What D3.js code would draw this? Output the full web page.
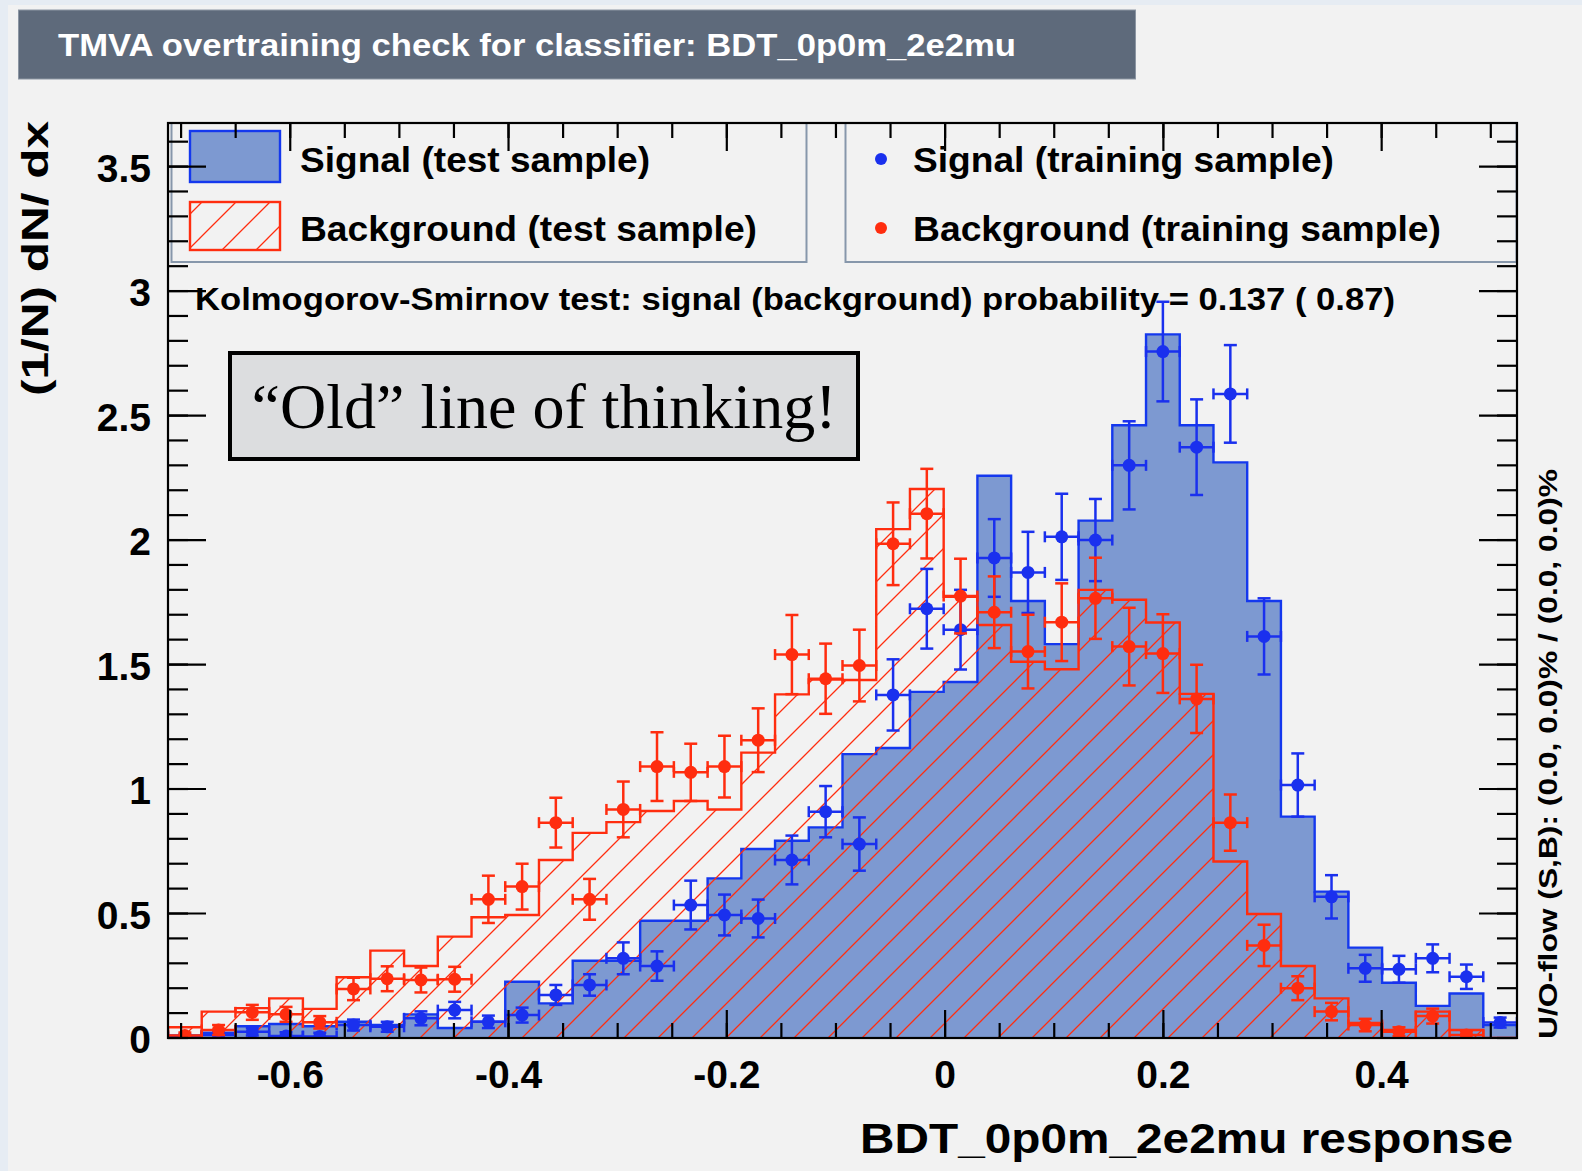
<!DOCTYPE html>
<html>
<head>
<meta charset="utf-8">
<script src="https://cdn.jsdelivr.net/npm/d3@7"></script>
<style>
  html, body { margin: 0; padding: 0; background: #e6ecf3; }
  svg { display: block; }
  text { font-family: "Liberation Sans", Arial, Helvetica, sans-serif; font-weight: bold; }
</style>
</head>
<body>
<svg id="chart" width="1582" height="1171"></svg>
<script>
// histogram binning of the BDT response
var nBins = 40;
var xLo = -0.712, xHi = 0.524;
var yTop = 3.675;

// signal, test sample (filled histogram)
var sigTest = [0.010, 0.021, 0.047, 0.056, 0.047, 0.065, 0.052, 0.095, 0.040, 0.065,
               0.226, 0.139, 0.310, 0.310, 0.471, 0.471, 0.641, 0.759, 0.792, 0.846,
               1.140, 1.165, 1.390, 1.430, 2.258, 1.755, 1.582, 2.078, 2.461, 2.826,
               2.461, 2.312, 1.755, 0.889, 0.588, 0.363, 0.222, 0.129, 0.179, 0.052];

// background, test sample (hatched histogram)
var bgTest = [0.043, 0.106, 0.120, 0.159, 0.117, 0.244, 0.351, 0.289, 0.407, 0.485,
              0.494, 0.715, 0.824, 0.867, 0.912, 0.952, 0.918, 1.146, 1.380, 1.440,
              1.438, 2.044, 2.205, 1.772, 1.659, 1.511, 1.481, 1.800, 1.760, 1.669,
              1.382, 0.709, 0.498, 0.289, 0.159, 0.060, 0.032, 0.106, 0.032, 0.000];

// signal, training sample (points)
var sigTrain = [0.004, 0.012, 0.025, 0.008, 0.006, 0.052, 0.045, 0.079, 0.112, 0.065,
                0.092, 0.173, 0.213, 0.320, 0.289, 0.534, 0.494, 0.480, 0.715, 0.909,
                0.779, 1.378, 1.724, 1.640, 1.928, 1.870, 2.013, 2.000, 2.300, 2.757,
                2.373, 2.587, 1.613, 1.016, 0.567, 0.280, 0.276, 0.320, 0.246, 0.062];
var sigTrainErr = [0.010, 0.012, 0.015, 0.015, 0.015, 0.022, 0.020, 0.028, 0.033, 0.025,
                   0.030, 0.040, 0.043, 0.064, 0.059, 0.098, 0.082, 0.076, 0.098, 0.103,
                   0.107, 0.143, 0.160, 0.160, 0.156, 0.163, 0.173, 0.165, 0.177, 0.200,
                   0.192, 0.196, 0.153, 0.127, 0.087, 0.054, 0.054, 0.056, 0.049, 0.020];

// background, training sample (points)
var bgTrain = [0.010, 0.032, 0.103, 0.095, 0.063, 0.197, 0.238, 0.233, 0.236, 0.557,
               0.608, 0.865, 0.557, 0.918, 1.090, 1.067, 1.090, 1.196, 1.540, 1.443,
               1.496, 1.985, 2.106, 1.775, 1.710, 1.552, 1.670, 1.766, 1.572, 1.544,
               1.362, 0.865, 0.372, 0.200, 0.106, 0.052, 0.025, 0.088, 0.012, 0.000];
var bgTrainErr = [0.012, 0.020, 0.030, 0.030, 0.025, 0.045, 0.050, 0.050, 0.050, 0.095,
                  0.092, 0.100, 0.082, 0.112, 0.138, 0.115, 0.124, 0.128, 0.159, 0.141,
                  0.144, 0.166, 0.180, 0.150, 0.144, 0.148, 0.156, 0.163, 0.156, 0.158,
                  0.137, 0.113, 0.083, 0.048, 0.035, 0.025, 0.018, 0.030, 0.015, 0.000];

var xTickVals = [-0.6, -0.4, -0.2, 0, 0.2, 0.4];
var xTickLabels = ["-0.6", "-0.4", "-0.2", "0", "0.2", "0.4"];
var yTickVals = [0, 0.5, 1, 1.5, 2, 2.5, 3, 3.5];
var yTickLabels = ["0", "0.5", "1", "1.5", "2", "2.5", "3", "3.5"];

var titleText = "TMVA overtraining check for classifier: BDT_0p0m_2e2mu";
var ksText = "Kolmogorov-Smirnov test: signal (background) probability = 0.137 ( 0.87)";
var flowText = "U/O-flow (S,B): (0.0, 0.0)% / (0.0, 0.0)%";
var xTitle = "BDT_0p0m_2e2mu response";
var yTitle = "(1/N) dN/ dx";
var noteText = "\u201COld\u201D line of thinking!";

// colours
var cSigFill = "#7d99d1", cSigLine = "#1438ee", cBg = "#ff2d0f";

var svg = d3.select("#chart");
var W = 1582, H = 1171;
var frame = {l: 168, r: 1517, t: 123, b: 1038};

var x = d3.scaleLinear().domain([xLo, xHi]).range([frame.l, frame.r]);
var y = d3.scaleLinear().domain([0, yTop]).range([frame.b, frame.t]);
var bw = (xHi - xLo) / nBins;
var edge = function(i){ return xLo + i * bw; };

// background of the slide / canvas
svg.append("rect").attr("x", 8).attr("y", 5).attr("width", W - 8).attr("height", H - 5)
  .attr("fill", "#f2f2f2");

var defs = svg.append("defs");
var pat = defs.append("pattern").attr("id", "hatch")
  .attr("patternUnits", "userSpaceOnUse")
  .attr("x", 30).attr("y", 0).attr("width", 34).attr("height", 34);
pat.append("path")
  .attr("d", "M0,34 L34,0 M-8.5,8.5 L8.5,-8.5 M25.5,42.5 L42.5,25.5")
  .attr("stroke", cBg).attr("stroke-width", 1.3).attr("fill", "none");

defs.append("clipPath").attr("id", "frameClip")
  .append("rect").attr("x", frame.l).attr("y", frame.t)
  .attr("width", frame.r - frame.l).attr("height", frame.b - frame.t);

// title bar
svg.append("rect").attr("x", 18.5).attr("y", 10).attr("width", 1117).attr("height", 69)
  .attr("fill", "#5e6a7b").attr("stroke", "#8c96a3").attr("stroke-width", 1);
svg.append("text").attr("x", 58).attr("y", 56).attr("fill", "#ffffff")
  .attr("font-size", 32).attr("textLength", 958).attr("lengthAdjust", "spacingAndGlyphs")
  .text(titleText);

// step outline through the bins
function stepPoints(vals){
  var pts = [[edge(0), 0]];
  vals.forEach(function(v, i){ pts.push([edge(i), v]); });
  pts.push([edge(nBins), vals[nBins - 1]]);
  pts.push([edge(nBins), 0]);
  return pts;
}
var stepLine = d3.line()
  .x(function(d){ return x(d[0]); })
  .y(function(d){ return y(d[1]); })
  .curve(d3.curveStepAfter);

var plot = svg.append("g").attr("clip-path", "url(#frameClip)");

// signal test histogram
plot.append("path").attr("d", stepLine(stepPoints(sigTest)) + "Z")
  .attr("fill", cSigFill).attr("stroke", "none");
plot.append("path").attr("d", stepLine(stepPoints(sigTest)))
  .attr("fill", "none").attr("stroke", cSigLine).attr("stroke-width", 2.4);

// background test histogram (hatched)
plot.append("path").attr("d", stepLine(stepPoints(bgTest)) + "Z")
  .attr("fill", "url(#hatch)").attr("stroke", "none");
plot.append("path").attr("d", stepLine(stepPoints(bgTest)))
  .attr("fill", "none").attr("stroke", cBg).attr("stroke-width", 2.4);

// training samples: markers with e1 style error bars
function drawPoints(vals, errs, col){
  var pts = vals.map(function(v, i){ return {i: i, v: v, e: errs[i]}; })
    .filter(function(d){ return d.v > 0; });
  var g = plot.append("g").attr("stroke", col).attr("stroke-width", 2.5).attr("fill", col);
  var pt = g.selectAll("g.pt").data(pts).enter().append("g").attr("class", "pt");
  var cx = function(d){ return x(edge(d.i) + bw / 2); };
  pt.append("line")
    .attr("x1", cx).attr("x2", cx)
    .attr("y1", function(d){ return y(d.v - d.e); })
    .attr("y2", function(d){ return y(d.v + d.e); });
  [-1, 1].forEach(function(s){
    pt.append("line")
      .attr("x1", function(d){ return cx(d) - 6.5; })
      .attr("x2", function(d){ return cx(d) + 6.5; })
      .attr("y1", function(d){ return y(d.v + s * d.e); })
      .attr("y2", function(d){ return y(d.v + s * d.e); });
  });
  pt.append("line")
    .attr("x1", function(d){ return x(edge(d.i)); })
    .attr("x2", function(d){ return x(edge(d.i + 1)); })
    .attr("y1", function(d){ return y(d.v); })
    .attr("y2", function(d){ return y(d.v); });
  [0, 1].forEach(function(k){
    pt.append("line")
      .attr("x1", function(d){ return x(edge(d.i + k)); })
      .attr("x2", function(d){ return x(edge(d.i + k)); })
      .attr("y1", function(d){ return y(d.v) - 5.5; })
      .attr("y2", function(d){ return y(d.v) + 5.5; });
  });
  pt.append("circle").attr("cx", cx).attr("cy", function(d){ return y(d.v); })
    .attr("r", 6.5).attr("stroke", "none");
}
drawPoints(sigTrain, sigTrainErr, "#1a30ee");
drawPoints(bgTrain, bgTrainErr, cBg);

// legends
var legBorder = "#8797ab";
svg.append("rect").attr("x", 171.5).attr("y", frame.t).attr("width", 635).attr("height", 139)
  .attr("fill", "none").attr("stroke", legBorder).attr("stroke-width", 2);
svg.append("rect").attr("x", 845.5).attr("y", frame.t).attr("width", 671).attr("height", 139)
  .attr("fill", "none").attr("stroke", legBorder).attr("stroke-width", 2);

svg.append("rect").attr("x", 190).attr("y", 131).attr("width", 90).attr("height", 51)
  .attr("fill", cSigFill).attr("stroke", cSigLine).attr("stroke-width", 2.4);
svg.append("rect").attr("x", 190).attr("y", 202).attr("width", 90).attr("height", 48)
  .attr("fill", "url(#hatch)").attr("stroke", cBg).attr("stroke-width", 2.4);
svg.append("circle").attr("cx", 881).attr("cy", 159).attr("r", 6).attr("fill", "#1a30ee");
svg.append("circle").attr("cx", 881).attr("cy", 228).attr("r", 6).attr("fill", cBg);

var legTexts = [
  {t: "Signal (test sample)", x: 300, y: 172, w: 350},
  {t: "Background (test sample)", x: 300, y: 241, w: 457},
  {t: "Signal (training sample)", x: 913, y: 172, w: 421},
  {t: "Background (training sample)", x: 913, y: 241, w: 528}
];
svg.selectAll("text.leg").data(legTexts).enter().append("text").attr("class", "leg")
  .attr("x", function(d){ return d.x; }).attr("y", function(d){ return d.y; })
  .attr("font-size", 35).attr("fill", "#000")
  .attr("textLength", function(d){ return d.w; }).attr("lengthAdjust", "spacingAndGlyphs")
  .text(function(d){ return d.t; });

// KS test text
svg.append("text").attr("x", 195).attr("y", 310).attr("font-size", 31)
  .attr("textLength", 1200).attr("lengthAdjust", "spacingAndGlyphs").text(ksText);

// frame ticks (inward, on all four sides)
var axes = svg.append("g").attr("stroke", "#000").attr("stroke-width", 2.2);
var xMinor = d3.ticks(-0.7, 0.5, 24);
var yMinor = d3.ticks(0, 3.6, 36);
function tickSet(vals, isX, len){
  vals.forEach(function(v){
    if(isX){
      var px = x(v);
      axes.append("line").attr("x1", px).attr("x2", px).attr("y1", frame.b).attr("y2", frame.b - len);
      axes.append("line").attr("x1", px).attr("x2", px).attr("y1", frame.t).attr("y2", frame.t + len);
    } else {
      var py = y(v);
      axes.append("line").attr("y1", py).attr("y2", py).attr("x1", frame.l).attr("x2", frame.l + len);
      axes.append("line").attr("y1", py).attr("y2", py).attr("x1", frame.r).attr("x2", frame.r - len);
    }
  });
}
tickSet(xMinor, true, 15);
tickSet(xTickVals, true, 28);
tickSet(yMinor, false, 20);
tickSet(yTickVals, false, 38);
axes.append("rect").attr("x", frame.l).attr("y", frame.t)
  .attr("width", frame.r - frame.l).attr("height", frame.b - frame.t).attr("fill", "none");

// tick labels
svg.selectAll("text.xt").data(xTickVals).enter().append("text").attr("class", "xt")
  .attr("x", function(d){ return x(d); }).attr("y", 1088)
  .attr("text-anchor", "middle").attr("font-size", 39)
  .text(function(d, i){ return xTickLabels[i]; });
svg.selectAll("text.yt").data(yTickVals).enter().append("text").attr("class", "yt")
  .attr("x", 151).attr("y", function(d){ return y(d) + 15; })
  .attr("text-anchor", "end").attr("font-size", 39)
  .text(function(d, i){ return yTickLabels[i]; });

// axis titles
svg.append("text").attr("x", 1513).attr("y", 1153).attr("text-anchor", "end")
  .attr("font-size", 42).attr("textLength", 653).attr("lengthAdjust", "spacingAndGlyphs")
  .text(xTitle);
svg.append("text").attr("transform", "translate(48,396) rotate(-90)")
  .attr("font-size", 36).attr("textLength", 275).attr("lengthAdjust", "spacingAndGlyphs")
  .text(yTitle);
svg.append("text").attr("transform", "translate(1557,1039) rotate(-90)")
  .attr("font-size", 26).attr("textLength", 570).attr("lengthAdjust", "spacingAndGlyphs")
  .text(flowText);

// annotation box
svg.append("rect").attr("x", 230).attr("y", 353).attr("width", 628).attr("height", 106)
  .attr("fill", "#dcdddf").attr("stroke", "#000").attr("stroke-width", 4);
svg.append("text").attr("x", 544).attr("y", 428).attr("text-anchor", "middle")
  .style("font-family", "'Liberation Serif', 'DejaVu Serif', serif").style("font-weight", "normal")
  .attr("font-size", 64).attr("textLength", 585).attr("lengthAdjust", "spacingAndGlyphs")
  .text(noteText);
</script>
</body>
</html>
